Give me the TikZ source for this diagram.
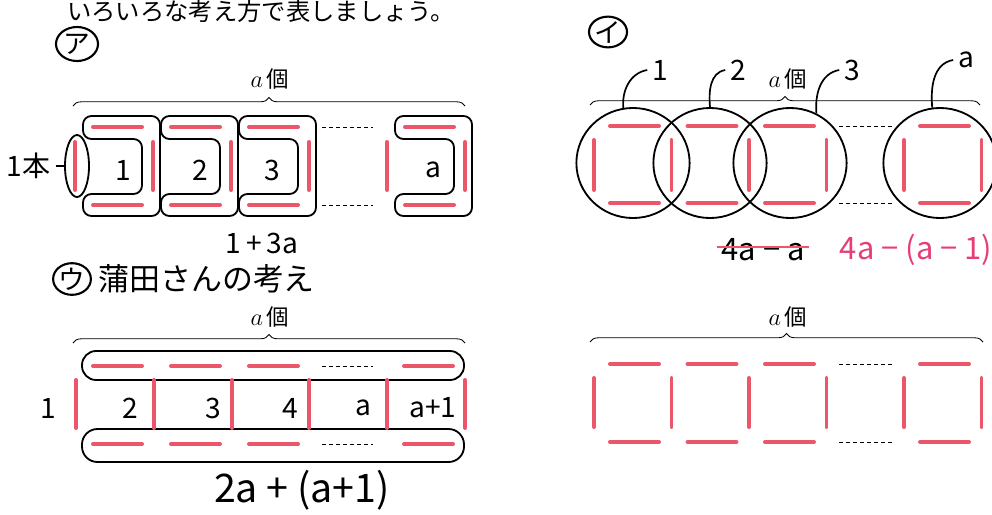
\documentclass[tikz,border=0pt]{standalone}
\usepackage{fontspec}
\newfontfamily\jp{Noto Sans CJK JP}
\usetikzlibrary{positioning,decorations.pathreplacing,shapes.geometric}
\definecolor{matchred}{RGB}{236,86,106}
\definecolor{penred}{RGB}{230,62,118}

\begin{document}
\begin{tikzpicture}[x=0.025cm, y=-0.025cm,
  stick/.style={matchred, line width=2.8pt, line cap=round},
  ring/.style={line width=1.3pt, rounded corners=6pt},
  dots/.style={densely dashed, line width=0.6pt},
  brc/.style={decorate, decoration={brace, amplitude=6pt}, line width=0.6pt},
  cnt/.style={font=\fontsize{16}{18}\selectfont},
  hand/.style={font=\jp\fontsize{20}{22}\selectfont},
  big/.style={font=\jp\fontsize{22}{24}\selectfont},
  tag/.style={draw, ellipse, line width=1.5pt, inner sep=0pt, font=\jp\fontsize{19}{21}\selectfont}]
\useasboundingbox (0,0) rectangle (992,514);
\node[font=\jp\fontsize{17.3}{19}\selectfont] (head) at (261,11) {いろいろな考え方で表しましょう。};

% ア
\node[tag, minimum width=1.05cm, minimum height=0.85cm] (tagA) at (77,44) {ア};
\draw[brc] (73,106) -- (465,106);
\node[cnt] (cntA) at (270,79) {$a$\,{\jp 個}};
\foreach \x in {75,153,231,309,387,465} \draw[stick] (\x,142) -- (\x,190);
\foreach \x in {75,153,231,387} {
  \draw[stick] (\x+18,127) -- (\x+67,127);
  \draw[stick] (\x+18,205) -- (\x+67,205);
  \draw[ring] (\x+67,139) -- (\x+67,194) -- (\x+8,194) -- (\x+8,216) -- (\x+85,216)
    -- (\x+85,116) -- (\x+8,116) -- (\x+8,139) -- cycle;
}
\draw[dots] (322,127) -- (373,127); \draw[dots] (322,205) -- (373,205);
\node[draw, ellipse, line width=1.3pt, minimum width=0.6cm, minimum height=1.55cm, inner sep=0pt] (endA) at (77,166) {};
\node[hand, left=6pt of endA] (oneA) {1本};
\draw[line width=1.2pt] (oneA) -- (endA);
\foreach \x/\t/\n in {123/1/sq1, 200/2/sq2, 272/3/sq3, 433/a/sqa} \node[hand] (\n) at (\x,170) {\t};
\node[hand] (sumA) at (262,243) {1\,+\,3a};

% ウ
\node[tag, minimum width=0.72cm, minimum height=0.75cm] (tagC) at (72,279) {ウ};
\node[font=\jp\fontsize{22}{24}\selectfont, right=1pt of tagC] (idea) {蒲田さんの考え};
\draw[brc] (73,343) -- (465,343);
\node[cnt] (cntC) at (270,317) {$a$\,{\jp 個}};
\draw[ring, rounded corners=10pt] (82,351) rectangle (464,380);
\draw[ring, rounded corners=11pt] (82,429) rectangle (464,462);
\foreach \x in {76,154,232,309,387,465} \draw[stick] (\x,380) -- (\x,428);
\foreach \x in {76,154,232,387} {
  \draw[stick] (\x+17,366) -- (\x+66,366);
  \draw[stick] (\x+17,444) -- (\x+66,444);
}
\draw[dots] (322,366) -- (373,366); \draw[dots] (322,444) -- (373,444);
\foreach \x/\t/\n in {48/1/cl1, 130/2/cl2, 213/3/cl3, 290/4/cl4, 363/a/cla, 433/a+1/clb} \node[hand] (\n) at (\x,408) {\t};
\node[font=\jp\fontsize{28}{30}\selectfont] (sumC) at (302,490) {2a + (a+1)};

% イ
\node[tag, minimum width=0.95cm, minimum height=0.75cm] (tagB) at (608,32) {イ};
\draw[brc] (590,105) -- (980,105);
\node[cnt] (cntB) at (788,79) {$a$\,{\jp 個}};
\foreach \x in {594,671.5,749,826.5,904,981.5} \draw[stick] (\x,140) -- (\x,190);
\foreach \x in {594,671.5,749,904} {
  \draw[stick] (\x+16,126) -- (\x+65,126);
  \draw[stick] (\x+16,203) -- (\x+65,203);
}
\draw[dots] (839,126) -- (892,126); \draw[dots] (839,203) -- (892,203);
\foreach \x/\n in {633/c1, 710/c2, 790/c3, 940/ca}
  \node[draw, ellipse, line width=1.3pt, minimum width=2.83cm, minimum height=2.75cm] (\n) at (\x,163) {};
\node[hand] (l1) at (660,70) {1};
\node[hand] (l2) at (738,70) {2};
\node[hand] (l3) at (852,70) {3};
\node[hand] (la) at (966,60) {a};
\draw[line width=1.2pt] (c1.100) to[out=95, in=190] (l1.west);
\draw[line width=1.2pt] (c2.90) to[out=95, in=190] (l2.west);
\draw[line width=1.2pt] (c3.62) to[out=95, in=190] (l3.west);
\draw[line width=1.2pt] (ca.98) to[out=95, in=190] (la.west);
\node[big] (old) at (763,250) {4a − a};
\draw[matchred, line width=1.6pt] ([yshift=2pt]old.west) -- ([yshift=2pt]old.east);
\node[big, penred] (new) at (916,250) {4a − (a − 1)};

% 下右
\draw[brc] (590,342) -- (983,342);
\node[cnt] (cntD) at (788,317) {$a$\,{\jp 個}};
\foreach \x in {594,671.5,749,826.5,904,981.5} \draw[stick] (\x,378) -- (\x,427);
\foreach \x in {594,671.5,749,904} {
  \draw[stick] (\x+16,364) -- (\x+65,364);
  \draw[stick] (\x+16,442) -- (\x+65,442);
}
\draw[dots] (839,364) -- (892,364); \draw[dots] (839,442) -- (892,442);
\end{tikzpicture}
\end{document}
